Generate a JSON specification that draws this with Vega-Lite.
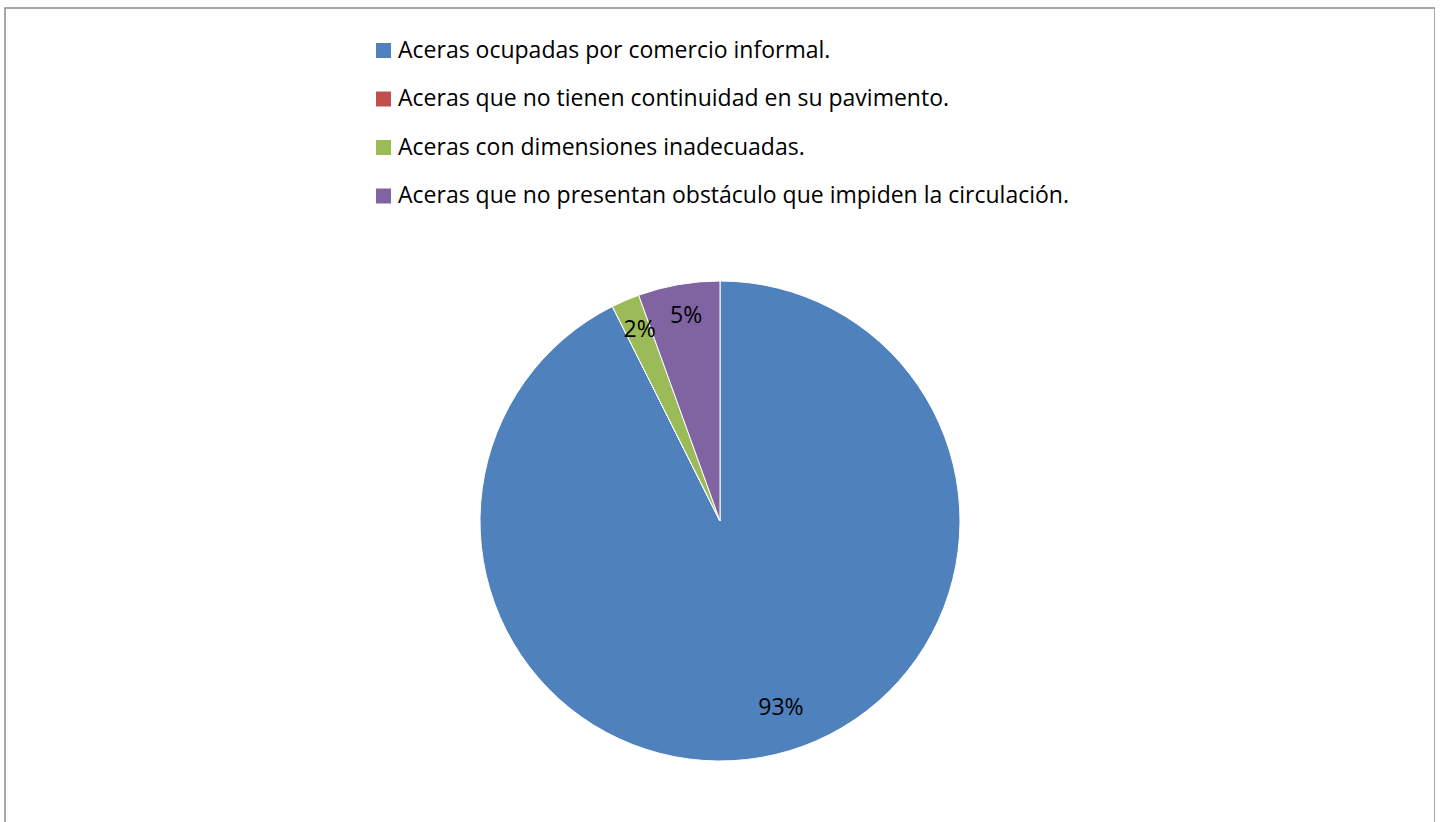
{
  "$schema": "https://vega.github.io/schema/vega-lite/v6.json",
  "width": 1430,
  "height": 1026,
  "autosize": {"type": "none"},
  "padding": {"left": 5, "top": 8, "right": 0, "bottom": 0},
  "background": "white",
  "config": {
    "view": {"stroke": null},
    "font": "Open Sans"
  },
  "data": {
    "values": [
      {"idx": 1, "categoria": "Aceras ocupadas por comercio informal.", "valor": 92.6, "etiqueta": "93%"},
      {"idx": 2, "categoria": "Aceras que no tienen continuidad en su pavimento.", "valor": 0, "etiqueta": ""},
      {"idx": 3, "categoria": "Aceras con dimensiones inadecuadas.", "valor": 1.9, "etiqueta": "2%"},
      {"idx": 4, "categoria": "Aceras que no presentan obstáculo que impiden la circulación.", "valor": 5.5, "etiqueta": "5%"}
    ]
  },
  "layer": [
    {
      "data": {"values": [{"marco": 1}]},
      "mark": {"type": "rect", "fill": null, "fillOpacity": 0, "stroke": "#8a8a8a", "strokeWidth": 1.5},
      "encoding": {}
    },
    {
      "mark": {"type": "arc", "outerRadius": 240, "stroke": "white", "strokeWidth": 1},
      "encoding": {
        "theta": {"field": "valor", "type": "quantitative", "stack": true},
        "order": {"field": "idx", "type": "quantitative"},
        "color": {
          "field": "categoria",
          "type": "nominal",
          "sort": {"field": "idx"},
          "scale": {
            "domain": [
              "Aceras ocupadas por comercio informal.",
              "Aceras que no tienen continuidad en su pavimento.",
              "Aceras con dimensiones inadecuadas.",
              "Aceras que no presentan obstáculo que impiden la circulación."
            ],
            "range": ["#4F81BD", "#C0504D", "#9BBB59", "#8064A2"]
          },
          "legend": {
            "title": null,
            "orient": "none",
            "legendX": 367,
            "legendY": 31,
            "padding": 0,
            "symbolType": "square",
            "symbolSize": 225,
            "symbolStrokeWidth": 0,
            "symbolOpacity": 1,
            "labelFontSize": 23,
            "labelFont": "Open Sans",
            "labelColor": "#000000",
            "labelOffset": 3,
            "labelLimit": 1000,
            "rowPadding": 24.5
          }
        }
      }
    },
    {
      "mark": {
        "type": "text",
        "radius": {"expr": "datum.idx == 1 ? 195 : 209"},
        "dx": {"expr": "datum.idx == 1 ? 16 : 2"},
        "dy": {"expr": "datum.idx == 1 ? -3 : 1"},
        "fontSize": 23,
        "font": "Open Sans",
        "color": "#000000",
        "baseline": "middle",
        "align": "center"
      },
      "encoding": {
        "theta": {"field": "valor", "type": "quantitative", "stack": true},
        "order": {"field": "idx", "type": "quantitative"},
        "text": {"field": "etiqueta"}
      }
    }
  ]
}
